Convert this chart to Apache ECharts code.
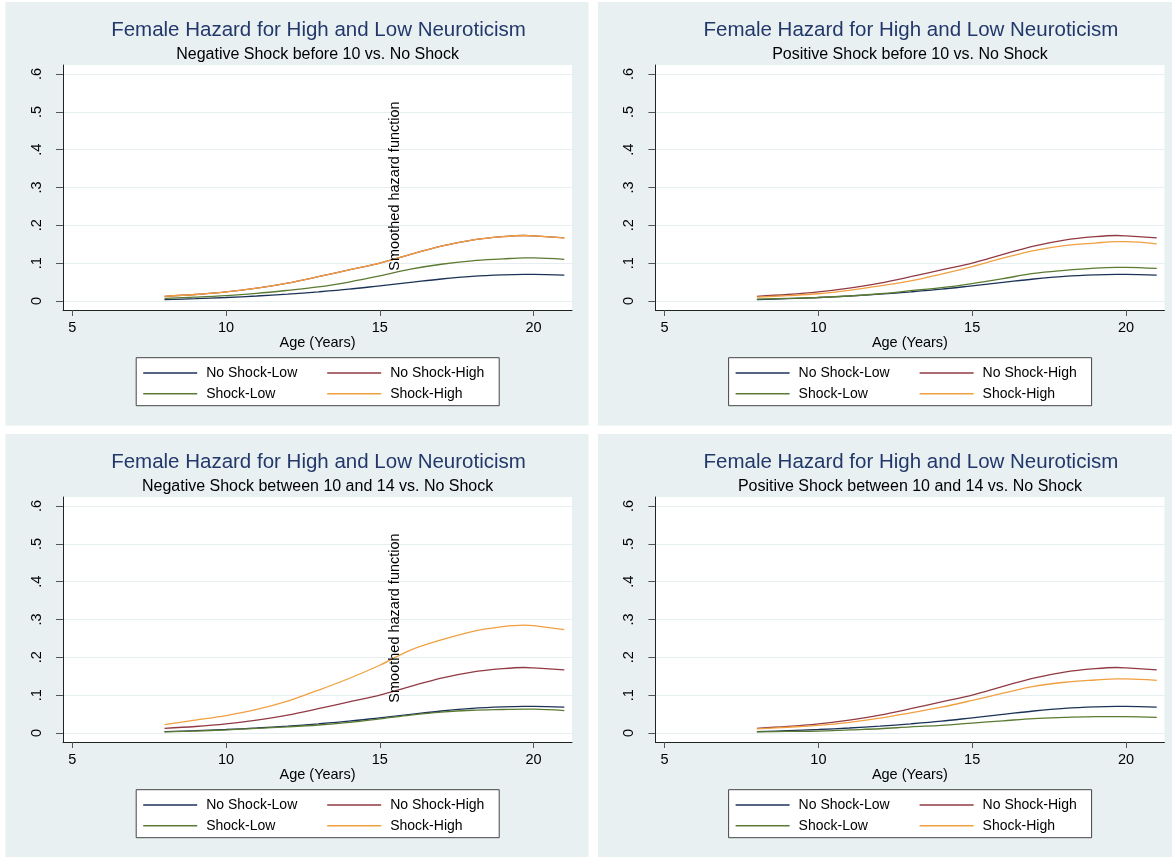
<!DOCTYPE html>
<html><head><meta charset="utf-8">
<script src="https://cdn.jsdelivr.net/npm/echarts@6/dist/echarts.min.js"></script>
<style>html,body{margin:0;padding:0;background:#fff}#c{width:1172px;height:857px}</style>
</head><body><div id="c"></div>
<script>
// ---------- data ----------
const ages = [8, 9, 10, 11, 12, 13, 14, 15, 16, 17, 18, 19, 19.7, 20, 21];
const noShockLow  = [0.0035, 0.006, 0.009, 0.013, 0.018, 0.024, 0.031, 0.040, 0.049, 0.058, 0.065, 0.069, 0.070, 0.070, 0.068];
const noShockHigh = [0.012, 0.017, 0.024, 0.034, 0.047, 0.064, 0.082, 0.100, 0.123, 0.145, 0.161, 0.170, 0.173, 0.172, 0.167];
const negBefore10Low   = [0.007, 0.010, 0.014, 0.020, 0.028, 0.037, 0.050, 0.066, 0.084, 0.097, 0.106, 0.111, 0.114, 0.114, 0.110];
const negBefore10High  = [0.012, 0.017, 0.024, 0.034, 0.047, 0.064, 0.082, 0.100, 0.123, 0.145, 0.161, 0.170, 0.173, 0.172, 0.167];
const posBefore10Low   = [0.005, 0.007, 0.009, 0.013, 0.019, 0.027, 0.035, 0.046, 0.059, 0.073, 0.081, 0.087, 0.089, 0.089, 0.086];
const posBefore10High  = [0.010, 0.014, 0.019, 0.028, 0.040, 0.053, 0.071, 0.091, 0.113, 0.133, 0.146, 0.153, 0.157, 0.157, 0.151];
const neg10to14Low     = [0.003, 0.005, 0.008, 0.012, 0.016, 0.021, 0.028, 0.037, 0.047, 0.055, 0.060, 0.062, 0.063, 0.063, 0.059];
const neg10to14High    = [0.022, 0.034, 0.046, 0.062, 0.084, 0.113, 0.144, 0.179, 0.219, 0.246, 0.268, 0.281, 0.285, 0.284, 0.273];
const pos10to14Low     = [0.003, 0.004, 0.005, 0.008, 0.011, 0.016, 0.020, 0.026, 0.032, 0.038, 0.041, 0.043, 0.043, 0.043, 0.041];
const pos10to14High    = [0.0105, 0.015, 0.020, 0.028, 0.039, 0.053, 0.068, 0.086, 0.105, 0.123, 0.134, 0.140, 0.143, 0.143, 0.139];

const seriesNames = ['No Shock-Low', 'No Shock-High', 'Shock-Low', 'Shock-High'];
const mainTitle = 'Female Hazard for High and Low Neuroticism';
const subTitles = [
  'Negative Shock before 10 vs. No Shock',
  'Positive Shock before 10 vs. No Shock',
  'Negative Shock between 10 and 14 vs. No Shock',
  'Positive Shock between 10 and 14 vs. No Shock'
];
const xTicks = [5, 10, 15, 20];
const xTickLabels = ['5', '10', '15', '20'];
const yTicks = [0, 0.1, 0.2, 0.3, 0.4, 0.5, 0.6];
const yTickLabels = ['0', '.1', '.2', '.3', '.4', '.5', '.6'];
const xTitle = 'Age (Years)';
const yTitle = 'Smoothed hazard function';

// ---------- style / layout ----------
const colors = ['#1c3358', '#913a44', '#5b7a32', '#f0a040'];
const FONT = '"Liberation Sans", Arial, Helvetica, sans-serif';
const panels = [
  {ox: 0,     oy: 0,   low: negBefore10Low, high: negBefore10High, sub: subTitles[0], yt: true},
  {ox: 592.4, oy: 0,   low: posBefore10Low, high: posBefore10High, sub: subTitles[1], yt: false},
  {ox: 0,     oy: 432, low: neg10to14Low,   high: neg10to14High,   sub: subTitles[2], yt: true},
  {ox: 592.4, oy: 432, low: pos10to14Low,   high: pos10to14High,   sub: subTitles[3], yt: false}
];

const pairs = arr => ages.map((a, i) => [a, arr[i]]);

const grid = [], xAxis = [], yAxis = [], series = [], legend = [], graphic = [];

panels.forEach((p, k) => {
  const {ox, oy} = p;
  graphic.push({type: 'rect', z: -100, silent: true,
    shape: {x: 5.5 + ox, y: 2 + oy, width: 583, height: 423.5},
    style: {fill: '#e8f0f2'}});
  graphic.push({type: 'text', z: 100, silent: true, x: 318.5 + ox, y: 30 + oy,
    style: {text: mainTitle, fontFamily: FONT, fontSize: 20.5, fill: '#23386a', align: 'center', verticalAlign: 'middle'}});
  graphic.push({type: 'text', z: 100, silent: true, x: 317.6 + ox, y: 54.5 + oy,
    style: {text: p.sub, fontFamily: FONT, fontSize: 16, fill: '#000', align: 'center', verticalAlign: 'middle'}});
  if (p.yt) {
    graphic.push({type: 'text', z: 100, silent: true, x: 395 + ox, y: 186 + oy, rotation: Math.PI / 2,
      style: {text: yTitle, fontFamily: FONT, fontSize: 14.5, fill: '#000', align: 'center', verticalAlign: 'middle'}});
  }

  grid.push({left: 63 + ox, top: 65 + oy, width: 509, height: 245,
    show: true, backgroundColor: '#ffffff', borderWidth: 0});

  xAxis.push({type: 'value', gridIndex: k, min: 4.7, max: 21.25,
    name: xTitle, nameLocation: 'middle', nameGap: 24,
    nameTextStyle: {fontFamily: FONT, fontSize: 14.5, color: '#000'},
    axisLine: {show: true, onZero: false, lineStyle: {color: '#222', width: 1}},
    axisTick: {show: true, length: 6, customValues: xTicks, lineStyle: {color: '#555'}},
    axisLabel: {customValues: xTicks, margin: 10, fontFamily: FONT, fontSize: 14.5, color: '#000',
      formatter: v => xTickLabels[xTicks.indexOf(v)]},
    splitLine: {show: false}});

  yAxis.push({type: 'value', gridIndex: k, min: -0.024, max: 0.624,
    axisLine: {show: true, onZero: false, lineStyle: {color: '#222', width: 1}},
    axisTick: {show: true, length: 7, customValues: yTicks, lineStyle: {color: '#555'}},
    axisLabel: {customValues: yTicks, rotate: 90, margin: 19, fontFamily: FONT, fontSize: 14.5, color: '#000',
      formatter: v => yTickLabels[yTicks.indexOf(v)]},
    splitLine: {show: true, lineStyle: {color: '#e6eef0', width: 1}}});

  const arrs = [noShockLow, noShockHigh, p.low, p.high];
  arrs.forEach((arr, j) => {
    series.push({type: 'line', name: seriesNames[j], xAxisIndex: k, yAxisIndex: k,
      data: pairs(arr), smooth: 0.35, symbol: 'none', showSymbol: false,
      color: colors[j], lineStyle: {color: colors[j], width: 1.3}, z: 2 + j});
  });

  const common = {orient: 'horizontal', itemWidth: 54, itemHeight: 14, itemGap: 10,
    selectedMode: false, icon: 'path://M0,0 L54,0 L54,1.4 L0,1.4 Z',
    textStyle: {fontFamily: FONT, fontSize: 14, color: '#000', padding: [0, 0, 0, 4], lineHeight: 16}};
  legend.push(Object.assign({}, common, {
    left: 136.2 + ox, top: 357.7 + oy, padding: [7.3, 7, 24.7, 7],
    borderColor: '#444', borderWidth: 1, backgroundColor: '#fff',
    data: [{name: seriesNames[0], textStyle: {width: 111}}, {name: seriesNames[1], textStyle: {width: 102}}]}));
  legend.push(Object.assign({}, common, {
    left: 143.2 + ox, top: 385.7 + oy, padding: 0, z: 10,
    data: [{name: seriesNames[2], textStyle: {width: 111}}, {name: seriesNames[3], textStyle: {width: 102}}]}));
});

const chart = echarts.init(document.getElementById('c'), null, {renderer: 'canvas'});
chart.setOption({animation: false, backgroundColor: '#ffffff', grid, xAxis, yAxis, series, legend, graphic});
</script>
</body></html>
